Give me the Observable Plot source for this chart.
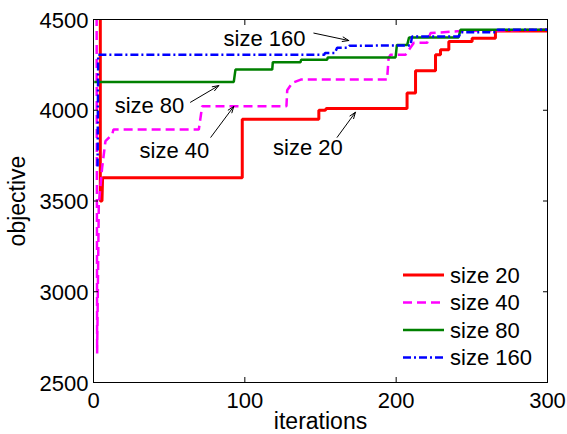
<!DOCTYPE html>
<html><head><meta charset="utf-8">
<script src="https://cdn.jsdelivr.net/npm/d3@7"></script>
<script src="https://cdn.jsdelivr.net/npm/@observablehq/plot@0.6"></script>
<style>
body{margin:0;background:#fff;}
#wrap{position:relative;width:567px;height:434px;font-family:"Liberation Sans",Arial,Helvetica,sans-serif;}
#legend{position:absolute;left:400px;top:261px;}
</style></head><body><div id="wrap"></div>
<script>
// ---- data ----
const iterTicks = [0, 100, 200, 300];
const objTicks = [2500, 3000, 3500, 4000, 4500];
const xLabel = "iterations";
const yLabel = "objective";

const seriesNames = ["size 20", "size 40", "size 80", "size 160"];

const size20Iter = [4.5, 4.5, 5.6, 6, 98.3, 98.3, 148.9, 148.9, 153, 154, 207.2, 207.2, 212.8, 212.8, 226, 226, 229.3, 229.3, 234.8, 234.8, 250.2, 250.2, 265.6, 265.6, 300];
const size20Obj  = [4900, 3500, 3500, 3628, 3628, 3950, 3950, 4000, 4000, 4010, 4010, 4095, 4095, 4218, 4218, 4306, 4306, 4334, 4334, 4379, 4379, 4397, 4397, 4436, 4436];

const size40Iter = [2, 2.4, 3.5, 5.7, 7.9, 12.4, 13.2, 69.6, 71.8, 127.5, 128, 131.3, 137, 194, 195, 196.3, 206.2, 211.7, 220.5, 222.7, 242.5, 300];
const size40Obj  = [4900, 2660, 3480, 3683, 3830, 3868, 3894, 3894, 4022, 4022, 4110, 4150, 4169, 4169, 4288, 4306, 4306, 4372, 4372, 4425, 4436, 4445];

const size80Iter = [0.5, 92.7, 93.8, 118.1, 118.5, 136.8, 137.2, 154.4, 154.8, 199.6, 200.5, 207.3, 208.5, 241.2, 242.5, 300];
const size80Obj  = [4156, 4156, 4224, 4224, 4265, 4265, 4278, 4278, 4291, 4291, 4360, 4360, 4401, 4401, 4443, 4443];

const size160Iter = [2.7, 3.1, 152.5, 153, 159.5, 161, 168, 169, 200.7, 209.5, 210.5, 241.5, 242.5, 266, 267, 300];
const size160Obj  = [3690, 4306, 4306, 4315, 4315, 4345, 4345, 4355, 4357, 4357, 4407, 4407, 4430, 4430, 4443, 4443];

// annotations (text centre and arrow, in data units)
const annoText  = ["size 160", "size 80", "size 40", "size 20"];
const annoX     = [113, 37, 53.5, 141.7];
const annoY     = [4391, 4023, 3778, 3792];
const arrowX1   = [145.6, 64.1, 77.5, 161];
const arrowY1   = [4425, 4044, 3851, 3851];
const arrowX2   = [168.7, 82.8, 92.7, 173.1];
const arrowY2   = [4384, 4136, 4021, 3989];

// ---- styles ----
const seriesColors = ["#ff0000", "#ff00ff", "#008000", "#0000ff"];
const seriesDash = [null, "9,5", null, "8,3,2,3"];
const seriesWidth = [3, 2.5, 2.5, 2.5];
const FONT = '"Liberation Sans", Arial, Helvetica, sans-serif';

// ---- build tables ----
const iters = [size20Iter, size40Iter, size80Iter, size160Iter];
const objs = [size20Obj, size40Obj, size80Obj, size160Obj];
const series = seriesNames.map((name, i) =>
  iters[i].map((it, j) => ({name, iter: it, obj: objs[i][j]})));
const annos = annoText.map((t, i) => ({t, x: annoX[i], y: annoY[i],
  x1: arrowX1[i], y1: arrowY1[i], x2: arrowX2[i], y2: arrowY2[i]}));

const lineMarks = series.map((data, i) => Plot.line(data, {
  x: "iter", y: "obj", stroke: seriesColors[i], strokeWidth: seriesWidth[i],
  strokeDasharray: seriesDash[i] || undefined, strokeLinejoin: "miter", strokeLinecap: "butt", clip: true
}));

const fmt = d => String(d);

const chart = Plot.plot({
  width: 567, height: 434,
  marginTop: 19, marginRight: 20, marginBottom: 52, marginLeft: 93,
  style: {fontFamily: FONT, fontSize: "22px", background: "white", color: "black", overflow: "visible"},
  x: {domain: [0, 300]},
  y: {domain: [2500, 4500]},
  marks: [
    ...lineMarks,
    Plot.arrow(annos, {x1: "x1", y1: "y1", x2: "x2", y2: "y2", stroke: "black", strokeWidth: 1, headLength: 10, headAngle: 40}),
    Plot.text(annos, {x: "x", y: "y", text: "t", fontSize: 22, fill: "black", textAnchor: "middle", lineAnchor: "middle"}),
    Plot.frame({stroke: "black", strokeWidth: 1}),
    Plot.axisX({anchor: "bottom", ticks: iterTicks, tickSize: 0, tickPadding: 10, fontSize: 22, tickFormat: fmt, label: null}),
    Plot.axisX({anchor: "bottom", ticks: iterTicks, tickSize: 5, dy: -5, tickFormat: () => "", label: null}),
    Plot.axisX({anchor: "top", ticks: iterTicks, tickSize: 5, dy: 5, tickFormat: () => "", label: null}),
    Plot.axisY({anchor: "left", ticks: objTicks, tickSize: 0, tickPadding: 5, fontSize: 22, dy: 1, tickFormat: fmt, label: null}),
    Plot.axisY({anchor: "left", ticks: objTicks, tickSize: 5, dx: 5, tickFormat: () => "", label: null}),
    Plot.axisY({anchor: "right", ticks: objTicks, tickSize: 5, dx: -5, tickFormat: () => "", label: null}),
    Plot.text([xLabel], {text: d => d, frameAnchor: "bottom", dy: 46, lineAnchor: "bottom", textAnchor: "middle", fontSize: 23, fill: "black"}),
    Plot.text([yLabel], {text: d => d, frameAnchor: "left", dx: -85, rotate: -90, lineAnchor: "top", textAnchor: "middle", fontSize: 23, fill: "black"})
  ]
});
const wrap = document.getElementById("wrap");
wrap.appendChild(chart);

// ---- legend ----
const lg = d3.select(wrap).append("svg").attr("id", "legend")
  .attr("width", 150).attr("height", 110)
  .style("font-family", FONT).style("font-size", "22px");
seriesNames.forEach((name, i) => {
  const cy = 14 + i * 27.5;
  lg.append("line").attr("x1", 3).attr("x2", 44).attr("y1", cy).attr("y2", cy)
    .attr("stroke", seriesColors[i]).attr("stroke-width", seriesWidth[i])
    .attr("stroke-dasharray", seriesDash[i]);
  lg.append("text").attr("x", 50).attr("y", cy).attr("dy", "0.35em").attr("fill", "black").text(name);
});
</script></body></html>
